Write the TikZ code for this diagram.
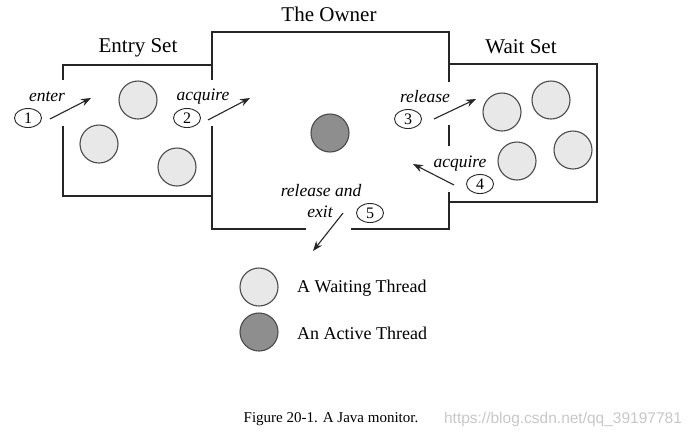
\documentclass[tikz,border=0pt]{standalone}
\usepackage{fontspec}
\setmainfont{Liberation Serif}
\newfontfamily\markfont{Liberation Sans}
\usetikzlibrary{arrows.meta,shapes.geometric}

\definecolor{waitgray}{HTML}{E8E8E8}
\definecolor{activegray}{HTML}{8E8E8E}
\definecolor{rimgray}{HTML}{4A4A4A}
\definecolor{wallgray}{HTML}{262626}

\tikzset{wall/.style = {draw=wallgray, line width=1.9pt},
         thread/.style = {circle, draw=rimgray, line width=1.1pt, minimum size=#1, inner sep=0pt},
         thread/.default = 38pt,
         waiting/.style = {thread, fill=waitgray},
         active/.style = {thread, fill=activegray},
         title/.style = {font=\fontsize{21}{25}\selectfont},
         verb/.style = {font=\fontsize{17.5}{20}\selectfont\itshape, inner sep=0pt},
         stepnum/.style = {ellipse, draw=wallgray, line width=0.9pt, minimum width=27pt,
                           minimum height=19pt, inner sep=0pt, font=\fontsize{16}{18}\selectfont},
         flow/.style = {draw=wallgray, line width=1.1pt, -{Stealth[length=10pt,width=7.5pt]}},
         legend/.style = {anchor=west, font=\fontsize{18}{21}\selectfont, inner sep=0pt}
        }

\begin{document}
\begin{tikzpicture}[x=1pt, y=-1pt]
  \useasboundingbox (0,0) rectangle (692,440);

  \draw[wall] (63,80) -- (63,65) -- (212,65);
  \draw[wall] (63,126) -- (63,196) -- (212,196);
  \draw[wall] (212,80) -- (212,32) -- (449,32) -- (449,82);
  \draw[wall] (212,126) -- (212,229) -- (306,229);
  \draw[wall] (351,229) -- (449,229) -- (449,192);
  \draw[wall] (449,125) -- (449,146);
  \draw[wall] (449,64) -- (597,64) -- (597,202) -- (449,202);

  \node[title] (owner) at (329,14) {The Owner};
  \node[title] (entryset) at (138,48) {Entry Set};
  \node[title] (waitset) at (521,47) {Wait Set};

  \node[waiting] (entry1) at (138,100) {};
  \node[waiting] (entry2) at (99,144) {};
  \node[waiting] (entry3) at (177,167) {};
  \node[active] (holder) at (330,133) {};
  \node[waiting] (wait1) at (502,112) {};
  \node[waiting] (wait2) at (551,100) {};
  \node[waiting] (wait3) at (517,161) {};
  \node[waiting] (wait4) at (573,150) {};

  \node[verb] (enter) at (47,97) {enter};
  \node[stepnum] (one) at (28,118) {1};
  \coordinate (enter tip) at (91,98);
  \draw[flow] (one.east) ++(8,1) -- (enter tip);

  \node[verb] (acquire) at (203,97) {acquire};
  \node[stepnum] (two) at (187,118) {2};
  \coordinate (acquire tip) at (250,98);
  \draw[flow] (two.east) ++(7,2) -- (acquire tip);

  \node[verb] (release) at (425,97) {release};
  \node[stepnum] (three) at (408,119) {3};
  \coordinate (release tip) at (476,99);
  \draw[flow] (three.east) ++(12,0) -- (release tip);

  \node[verb] (reacquire) at (460,164) {acquire};
  \node[stepnum] (four) at (480,184) {4};
  \coordinate (reacquire tip) at (413,164);
  \draw[flow] (four.west) ++(-12,1) -- (reacquire tip);

  \node[verb] (leave) at (321,191) {release and};
  \node[verb] (exit) at (320,212) {exit};
  \node[stepnum] (five) at (370,213) {5};
  \coordinate (exit tip) at (313,251);
  \draw[flow] (five.west) ++(-13,0) -- (exit tip);

  \node[waiting] (keywait) at (259,287) {};
  \node[legend] (waitlabel) at (297,288) {A Waiting Thread};
  \node[active] (keyactive) at (259,332) {};
  \node[legend] (activelabel) at (297,333) {An Active Thread};

  \node[font=\fontsize{15}{17}\selectfont] (caption) at (331,419) {Figure 20-1. A Java monitor.};
  \node[font=\markfont\fontsize{15.5}{18}\selectfont, text=black!22] (mark) at (563,419) {https://blog.csdn.net/qq\_39197781};
\end{tikzpicture}
\end{document}
